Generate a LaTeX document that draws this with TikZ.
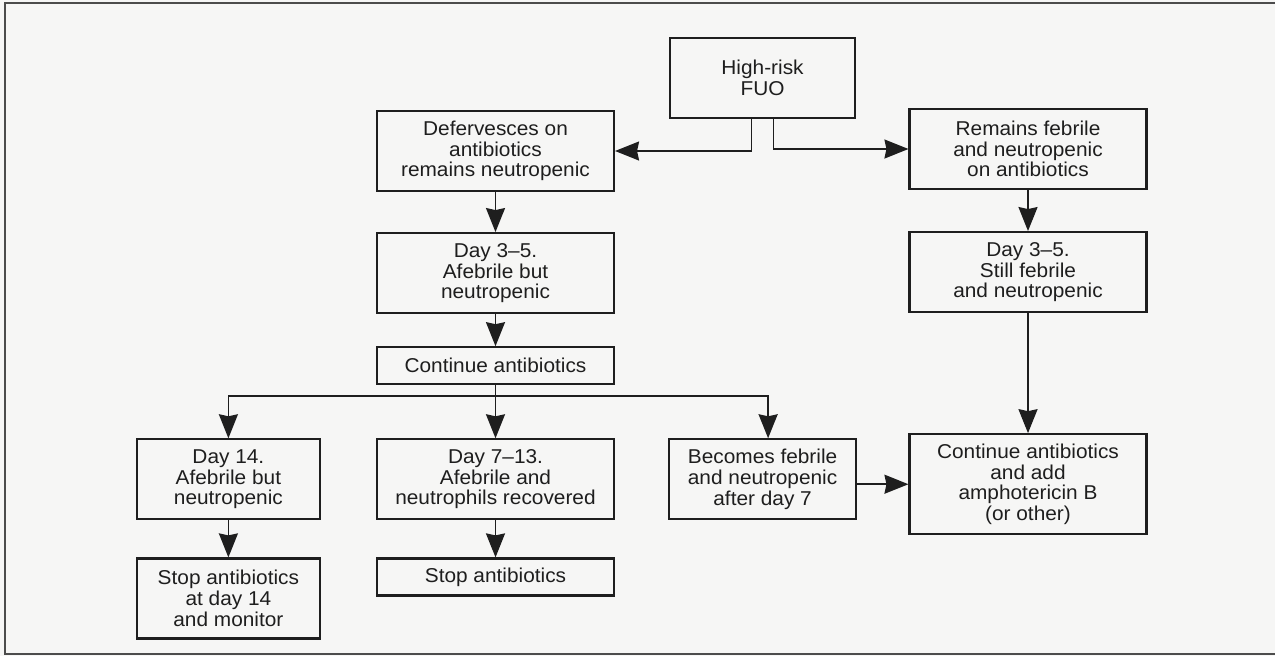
\documentclass[tikz,border=0pt]{standalone}
\usepackage{fontspec}
\setmainfont{Liberation Sans}[FakeStretch=1.04]
\usepackage{tikz}
\usetikzlibrary{arrows.meta,positioning}
\definecolor{paper}{RGB}{246,246,245}
\definecolor{ink}{RGB}{30,30,30}

\begin{document}
\begin{tikzpicture}[
  box/.style={draw=ink,line width=1.2pt,align=center,text=ink,inner sep=2pt,minimum height=1.6cm},
  wide/.style={box,minimum width=4.74cm},
  line/.style={draw=ink,line width=1pt},
  flow/.style={line,-{Stealth[length=4.8mm,width=3.8mm,inset=0.4mm]}},
  every node/.append style={font=\fontsize{11.4}{11.8}\selectfont}]
\useasboundingbox[fill=paper] (0,0) rectangle (25.5,-13.12);
\draw[black!70,line width=1.2pt] (25.6,-0.06) -- (0.1,-0.06) -- (0.1,-13.08) -- (25.6,-13.08);
% left column
\node[box,minimum width=3.7cm] (fuo) at (15.25,-1.56) {High-risk\\FUO};
\node[wide] (def) at (9.91,-3.02) {Defervesces on\\antibiotics\\remains neutropenic};
\node[wide,below=0.8cm of def] (afeb) {Day 3--5.\\Afebrile but\\neutropenic};
\node[wide,minimum height=0.74cm,below=0.64cm of afeb] (cont) {Continue antibiotics};
\node[wide,below=1.06cm of cont] (recov) {Day 7--13.\\Afebrile and\\neutrophils recovered};
\node[wide,minimum height=0.74cm,below=0.74cm of recov] (stop) {Stop antibiotics};
\node[box,minimum width=3.66cm,left=1.1cm of recov] (dfour) {Day 14.\\Afebrile but\\neutropenic};
\node[box,minimum width=3.66cm,below=0.74cm of dfour] (stopfour) {Stop antibiotics\\at day 14\\and monitor};
\node[box,minimum width=3.74cm,right=1.06cm of recov] (febr) {Becomes febrile\\and neutropenic\\after day 7};
% right column
\node[wide] (rem) at (20.56,-2.98) {Remains febrile\\and neutropenic\\on antibiotics};
\node[wide,below=0.82cm of rem] (still) {Day 3--5.\\Still febrile\\and neutropenic};
\node[wide,minimum height=2cm,below=2.4cm of still] (amph) {Continue antibiotics\\and add\\amphotericin B\\(or other)};
% connectors
\draw[flow] ([xshift=-2.2mm]fuo.south) |- (def.east);
\draw[flow] ([xshift=2.2mm]fuo.south) |- (rem.west);
\draw[flow] (def) -- (afeb);
\draw[flow] (afeb) -- (cont);
\draw[line] (cont.south) -- ++(0,-0.22) coordinate (split);
\draw[flow] (split) -| (dfour.north);
\draw[flow] (split) -- (recov.north);
\draw[flow] (split) -| ([xshift=1.1mm]febr.north);
\draw[flow] (dfour) -- (stopfour);
\draw[flow] (recov) -- (stop);
\draw[flow] (rem) -- (still);
\draw[flow] (still.south) -- (still.south |- amph.north);
\draw[flow] (febr.east |- amph.west) -- (amph.west);
\end{tikzpicture}
\end{document}
